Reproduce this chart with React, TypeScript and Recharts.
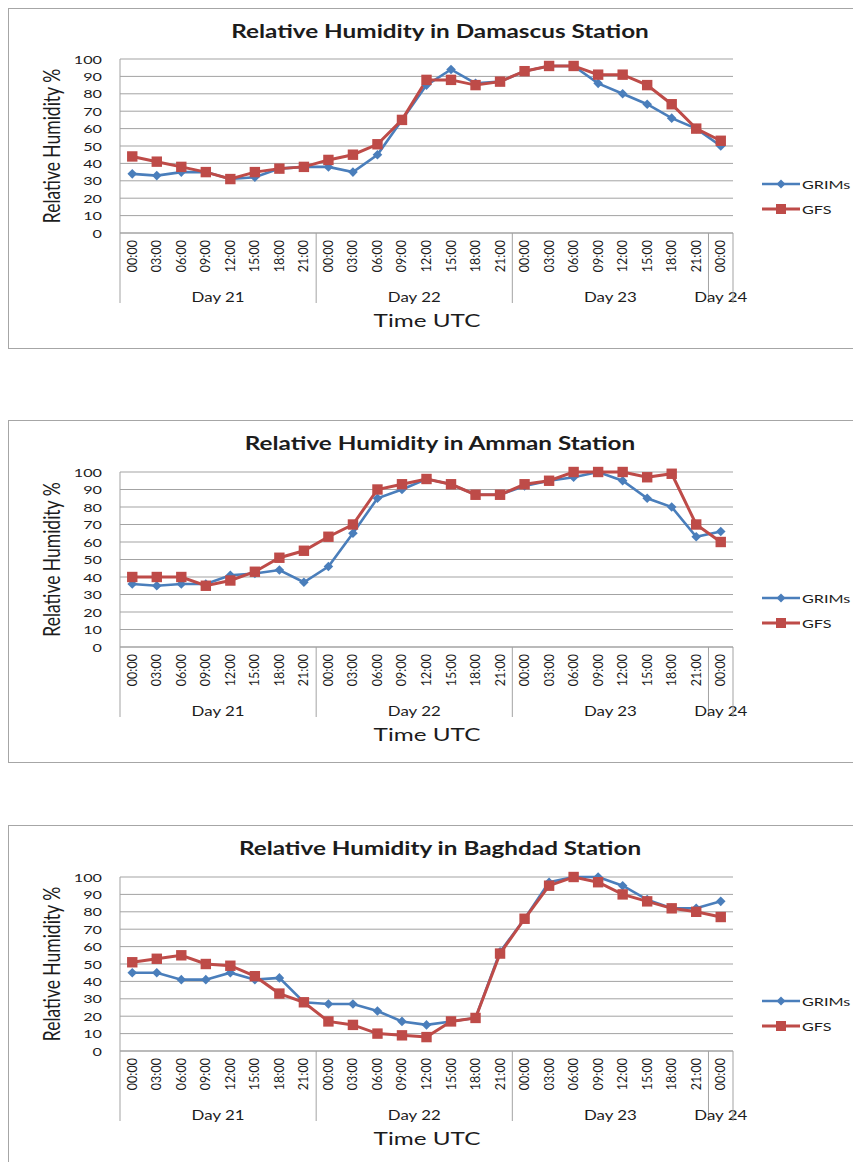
import React from 'react';
import { LineChart, Line, XAxis, YAxis, CartesianGrid } from 'recharts';

const TIMES = [
  '00:00', '03:00', '06:00', '09:00', '12:00', '15:00', '18:00', '21:00',
  '00:00', '03:00', '06:00', '09:00', '12:00', '15:00', '18:00', '21:00',
  '00:00', '03:00', '06:00', '09:00', '12:00', '15:00', '18:00', '21:00',
  '00:00',
];
const DAYS = ['Day 21', 'Day 22', 'Day 23', 'Day 24'];
const DAY_SIZES = [8, 8, 8, 1];
const Y_TICKS = [0, 10, 20, 30, 40, 50, 60, 70, 80, 90, 100];

const damascusGrims = [34, 33, 35, 35, 31, 32, 37, 38, 38, 35, 45, 65, 85, 94, 86, 87, 93, 96, 96, 86, 80, 74, 66, 60, 50];
const damascusGfs = [44, 41, 38, 35, 31, 35, 37, 38, 42, 45, 51, 65, 88, 88, 85, 87, 93, 96, 96, 91, 91, 85, 74, 60, 53];

const ammanGrims = [36, 35, 36, 36, 41, 42, 44, 37, 46, 65, 85, 90, 96, 93, 87, 87, 92, 95, 97, 100, 95, 85, 80, 63, 66];
const ammanGfs = [40, 40, 40, 35, 38, 43, 51, 55, 63, 70, 90, 93, 96, 93, 87, 87, 93, 95, 100, 100, 100, 97, 99, 70, 60];

const baghdadGrims = [45, 45, 41, 41, 45, 41, 42, 28, 27, 27, 23, 17, 15, 17, 19, 57, 76, 97, 100, 100, 95, 87, 82, 82, 86];
const baghdadGfs = [51, 53, 55, 50, 49, 43, 33, 28, 17, 15, 10, 9, 8, 17, 19, 56, 76, 95, 100, 97, 90, 86, 82, 80, 77];

const W = 860;
const YW = 111;
const MR = 136;
const STEP = (W - YW - MR) / TIMES.length;
const SX = 1.35;
const FONT = 'Lato, "Open Sans", sans-serif';
const BLUE = '#4a7ebb';
const RED = '#be4b48';
const GRID = '#a3a3a3';
const INK = '#1c1c1c';

const TimeTick = (props: any) => {
  const { x, y, payload } = props;
  const i = payload.value;
  let start = 0;
  let gi = -1;
  DAY_SIZES.forEach((n, k) => {
    if (i === start) gi = k;
    start += n;
  });
  return (
    <g>
      <text
        transform={`translate(${x},${y + 7}) rotate(-90)`}
        textAnchor="end"
        dominantBaseline="central"
        fontSize={12.5}
        fill={INK}
        fontFamily={FONT}
      >
        {TIMES[i]}
      </text>
      {gi >= 0 && (
        <line x1={x - STEP / 2} x2={x - STEP / 2} y1={y} y2={y + 70} stroke={GRID} strokeWidth={1} />
      )}
      {gi >= 0 && (
        <text
          transform={`translate(${x + ((DAY_SIZES[gi] - 1) * STEP) / 2},${y + 64}) scale(${SX},1)`}
          textAnchor="middle"
          dominantBaseline="central"
          fontSize={12.5}
          fill={INK}
          fontFamily={FONT}
        >
          {DAYS[gi]}
        </text>
      )}
      {i === TIMES.length - 1 && (
        <line x1={x + STEP / 2} x2={x + STEP / 2} y1={y} y2={y + 70} stroke={GRID} strokeWidth={1} />
      )}
    </g>
  );
};

const YTick = (props: any) => {
  const { x, y, payload } = props;
  return (
    <text
      transform={`translate(${x},${y}) scale(${SX},1)`}
      textAnchor="end"
      dominantBaseline="central"
      fontSize={12}
      fill={INK}
      fontFamily={FONT}
    >
      {payload.value}
    </text>
  );
};

const diamondDot = (props: any) => {
  const { cx, cy, index } = props;
  const r = 4.8;
  if (cx == null || cy == null) return <g key={`gd${index}`} />;
  return <path key={`gd${index}`} d={`M${cx},${cy - r}L${cx + r},${cy}L${cx},${cy + r}L${cx - r},${cy}Z`} fill={BLUE} />;
};

const squareDot = (props: any) => {
  const { cx, cy, index } = props;
  const h = 5.2;
  if (cx == null || cy == null) return <g key={`gs${index}`} />;
  return <rect key={`gs${index}`} x={cx - h} y={cy - h} width={h * 2} height={h * 2} fill={RED} />;
};

interface StationChartProps {
  title: string;
  grims: number[];
  gfs: number[];
  height: number;
  plotTop: number;
  plotBottom: number;
  legendY: number;
}

const StationChart: React.FC<StationChartProps> = ({ title, grims, gfs, height, plotTop, plotBottom, legendY }) => {
  const data = TIMES.map((t, i) => ({ i, time: t, grims: grims[i], gfs: gfs[i] }));
  const legX = W - MR + 29;
  return (
    <LineChart
      width={W}
      height={height}
      data={data}
      margin={{ top: plotTop, right: MR, left: 0, bottom: 0 }}
    >
      <CartesianGrid vertical={false} stroke={GRID} strokeWidth={1} />
      <XAxis
        type="number"
        dataKey="i"
        domain={[-0.5, TIMES.length - 0.5]}
        allowDataOverflow
        ticks={TIMES.map((_, i) => i)}
        interval={0}
        tickLine={false}
        tickSize={0}
        tickMargin={0}
        axisLine={{ stroke: GRID }}
        height={height - plotBottom}
        tick={<TimeTick />}
      />
      <YAxis
        domain={[0, 100]}
        ticks={Y_TICKS}
        interval={0}
        width={YW}
        tickLine={false}
        tickSize={0}
        tickMargin={18}
        axisLine={{ stroke: GRID }}
        tick={<YTick />}
      />
      <Line
        type="linear"
        dataKey="grims"
        stroke={BLUE}
        strokeWidth={2.6}
        dot={diamondDot}
        activeDot={false}
        isAnimationActive={false}
      />
      <Line
        type="linear"
        dataKey="gfs"
        stroke={RED}
        strokeWidth={3}
        dot={squareDot}
        activeDot={false}
        isAnimationActive={false}
      />
      <text
        transform={`translate(431,22) scale(${SX},1)`}
        textAnchor="middle"
        dominantBaseline="central"
        fontSize={18}
        fontWeight="bold"
        fill={INK}
        fontFamily={FONT}
      >
        {title}
      </text>
      <text
        transform={`translate(41,${(plotTop + plotBottom) / 2}) scale(${SX},1) rotate(-90)`}
        textAnchor="middle"
        dominantBaseline="central"
        fontSize={17.5}
        fill={INK}
        fontFamily={FONT}
      >
        Relative Humidity %
      </text>
      <text
        transform={`translate(418,${plotBottom + 87}) scale(${SX},1)`}
        textAnchor="middle"
        dominantBaseline="central"
        fontSize={18}
        fill={INK}
        fontFamily={FONT}
      >
        Time UTC
      </text>
      <g>
        <line x1={legX} x2={legX + 38} y1={legendY} y2={legendY} stroke={BLUE} strokeWidth={2.6} />
        <path
          d={`M${legX + 19},${legendY - 4.5}L${legX + 23.5},${legendY}L${legX + 19},${legendY + 4.5}L${legX + 14.5},${legendY}Z`}
          fill={BLUE}
        />
        <text
          transform={`translate(${legX + 40},${legendY}) scale(${SX},1)`}
          dominantBaseline="central"
          fontSize={12}
          fill={INK}
          fontFamily={FONT}
        >
          GRIMs
        </text>
        <line x1={legX} x2={legX + 38} y1={legendY + 25} y2={legendY + 25} stroke={RED} strokeWidth={3} />
        <rect x={legX + 14} y={legendY + 20} width={10} height={10} fill={RED} />
        <text
          transform={`translate(${legX + 40},${legendY + 25}) scale(${SX},1)`}
          dominantBaseline="central"
          fontSize={12}
          fill={INK}
          fontFamily={FONT}
        >
          GFS
        </text>
      </g>
    </LineChart>
  );
};

const frameStyle: React.CSSProperties = {
  border: '1px solid #a6a6a6',
  width: 870,
  background: '#fff',
};

export default function App() {
  return (
    <div style={{ width: 853, overflow: 'hidden', fontFamily: FONT }}>
      <div style={{ ...frameStyle, height: 339 }}>
        <StationChart
          title="Relative Humidity in Damascus Station"
          grims={damascusGrims}
          gfs={damascusGfs}
          height={339}
          plotTop={50}
          plotBottom={224}
          legendY={175}
        />
      </div>
      <div style={{ ...frameStyle, height: 341, marginTop: 71 }}>
        <StationChart
          title="Relative Humidity in Amman Station"
          grims={ammanGrims}
          gfs={ammanGfs}
          height={341}
          plotTop={51}
          plotBottom={226}
          legendY={177}
        />
      </div>
      <div style={{ ...frameStyle, height: 345, marginTop: 62 }}>
        <StationChart
          title="Relative Humidity in Baghdad Station"
          grims={baghdadGrims}
          gfs={baghdadGfs}
          height={345}
          plotTop={51}
          plotBottom={225}
          legendY={175}
        />
      </div>
    </div>
  );
}
